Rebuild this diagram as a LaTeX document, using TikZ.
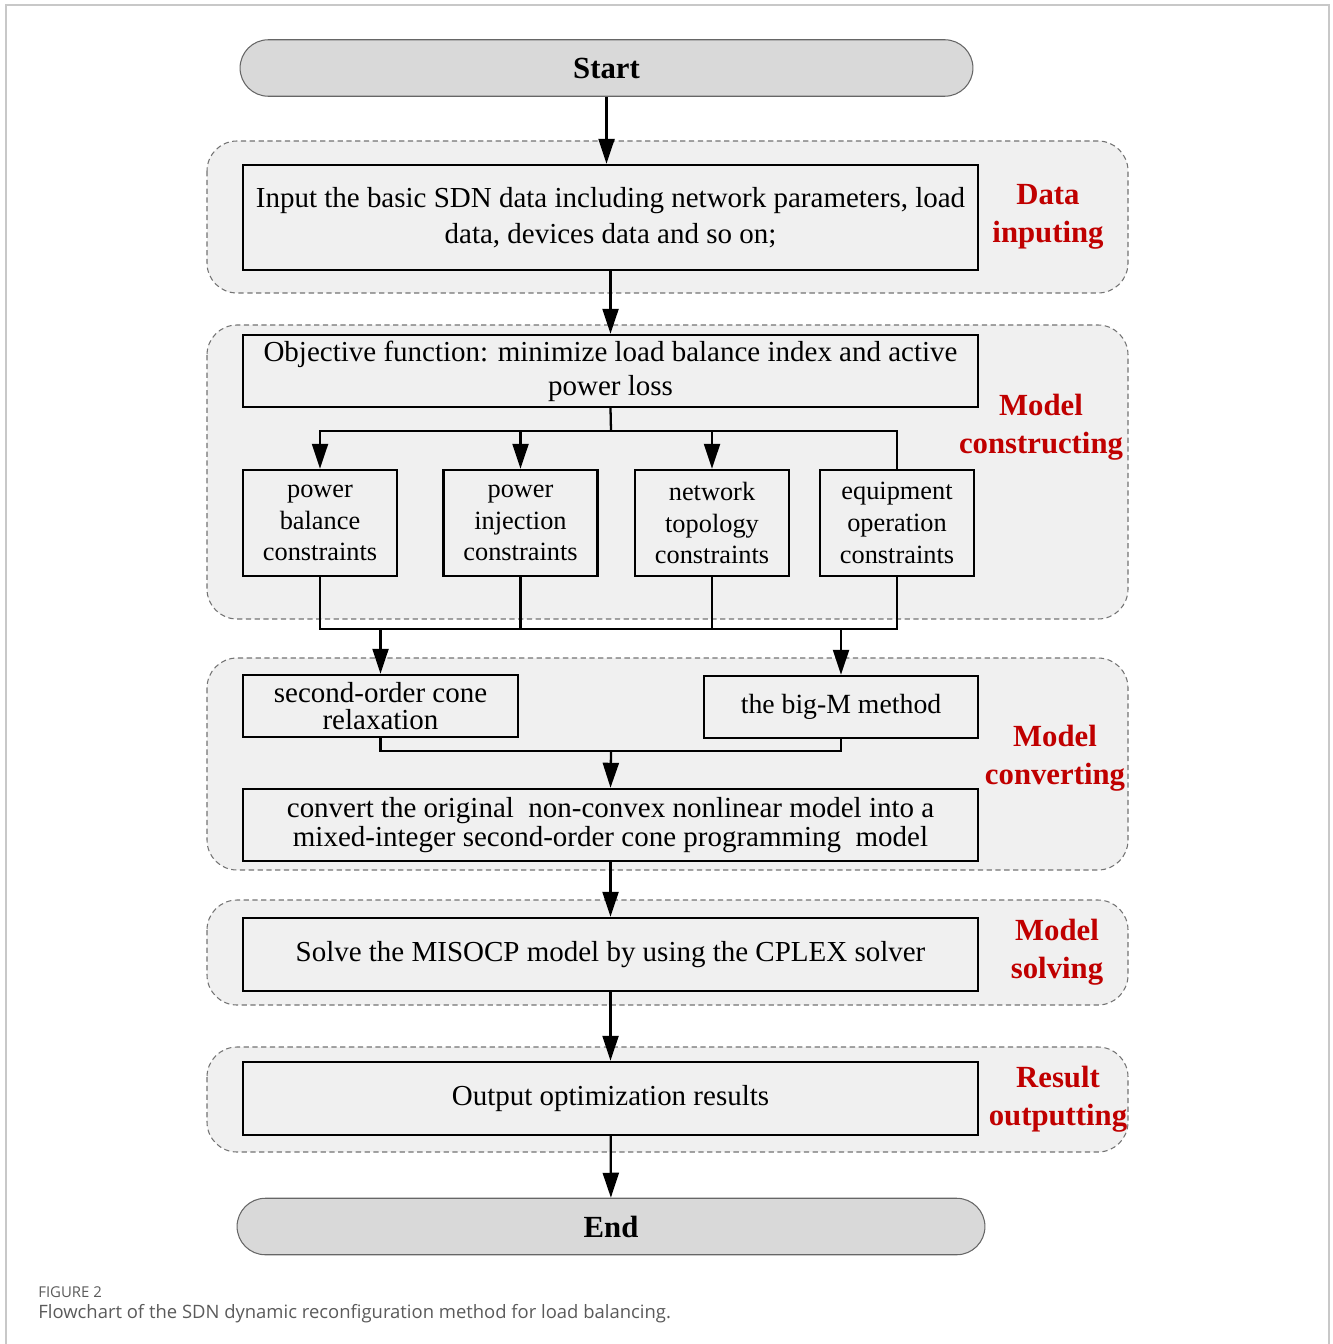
\documentclass[tikz,border=0pt]{standalone}
\usepackage{fontspec}
\setmainfont{Liberation Serif}
\newfontfamily\capfont{Open Sans}
\usetikzlibrary{arrows.meta,shapes.misc}
\definecolor{sdnred}{HTML}{C00000}
\definecolor{sdnpale}{HTML}{F0F0F0}
\definecolor{sdnterm}{HTML}{D9D9D9}
\definecolor{sdnframe}{HTML}{C8C8C8}
\definecolor{sdncap}{HTML}{5A5A5A}
\tikzset{
  sdn term/.style={rounded rectangle, draw=black!60, line width=0.6pt, fill=sdnterm,
    minimum height=1.13cm, inner sep=0pt, font=\fontsize{17.5}{20}\selectfont\bfseries},
  sdn region/.style={draw=black!55, line width=0.6pt, dash pattern=on 3pt off 2pt,
    rounded corners=0.6cm, fill=sdnpale},
  sdn box/.style={draw=black, line width=1.4pt, fill=sdnpale, align=center,
    inner sep=0pt, font=\fontsize{16.5}{20.4}\selectfont},
  sdn small/.style={sdn box, minimum width=3.08cm, minimum height=2.12cm,
    font=\fontsize{15}{18}\selectfont},
  sdn label/.style={text=sdnred, align=center, font=\fontsize{17.5}{21.5}\selectfont\bfseries},
  sdn arrow/.style={-{Triangle[length=0.5cm,width=0.32cm]}, line width=1.3pt},
  sdn line/.style={line width=1.3pt}
}
\begin{document}
\begin{tikzpicture}[x=0.02cm, y=-0.02cm]
  \useasboundingbox (0,0) rectangle (1332,1344);
  \draw[sdnframe, line width=0.6pt] (6,1344) -- (6,5) -- (1329,5) -- (1329,1344);
  % stage panels
  \draw[sdn region] (207,141) rectangle (1128,293);
  \draw[sdn region] (207,325) rectangle (1128,619);
  \draw[sdn region] (207,658) rectangle (1128,870);
  \draw[sdn region] (207,900) rectangle (1128,1005);
  \draw[sdn region] (207,1047) rectangle (1128,1152);
  % steps
  \node[sdn term, minimum width=14.66cm] (start) at (606.5,68) {Start};
  \node[sdn box, minimum width=14.7cm, minimum height=2.1cm] (input) at (610.5,217.5)
    {Input the basic SDN data including network parameters, load\\data, devices data and so on;};
  \node[sdn box, minimum width=14.7cm, minimum height=1.44cm,
    font=\fontsize{16.5}{19.3}\selectfont] (obj) at (610.5,371)
    {Objective function: minimize load balance index and active\\power loss};
  \node[sdn small] (pbal) at (320,523) {power\\balance\\constraints};
  \node[sdn small] (pinj) at (520.5,523) {power\\injection\\constraints};
  \node[sdn small] (topo) at (712,523) {network\\topology\\constraints};
  \node[sdn small] (equip) at (897,523) {equipment\\operation\\constraints};
  \node[sdn box, minimum width=5.5cm, minimum height=1.24cm,
    font=\fontsize{16.5}{15.5}\selectfont] (soc) at (380.5,706) {second-order cone\\relaxation};
  \node[sdn box, minimum width=5.48cm, minimum height=1.24cm,
    font=\fontsize{15.8}{18}\selectfont] (bigm) at (841,707) {the big-M method};
  \node[sdn box, minimum width=14.7cm, minimum height=1.44cm,
    font=\fontsize{16.5}{16.4}\selectfont] (conv) at (610.5,825)
    {convert the original\ \ non-convex nonlinear model into a\\mixed-integer second-order cone programming\ \ model};
  \node[sdn box, minimum width=14.7cm, minimum height=1.46cm] (solve) at (610.5,954.5)
    {Solve the MISOCP model by using the CPLEX solver};
  \node[sdn box, minimum width=14.7cm, minimum height=1.46cm] (out) at (610.5,1098.5)
    {Output optimization results};
  \node[sdn term, minimum width=14.96cm] (end) at (611,1226.5) {End};
  % stage names
  \node[sdn label] (lbdata) at (1048,217) {Data\\inputing};
  \node[sdn label] (lbcons) at (1041,427) {Model\\constructing};
  \node[sdn label] (lbconv) at (1055,758) {Model\\converting};
  \node[sdn label] (lbsolve) at (1057,952) {Model\\solving};
  \node[sdn label] (lbout) at (1058,1099) {Result\\outputting};
  % connectors
  \coordinate (fork) at (611,431);
  \coordinate (join) at (611,629);
  \coordinate (merge) at (611,751);
  \draw[sdn arrow] (start.south) -- (start.south |- input.north);
  \draw[sdn arrow] (input) -- (obj);
  \draw[sdn line] (obj.south) -- (fork);
  \draw[sdn arrow] (fork) -| (pbal.north);
  \draw[sdn arrow] (fork) -| (pinj.north);
  \draw[sdn arrow] (fork) -| (topo.north);
  \draw[sdn line] (fork) -| (equip.north);
  \draw[sdn line] (pbal.south) |- (join) -| (equip.south);
  \draw[sdn line] (pinj.south) -- (pinj.south |- join);
  \draw[sdn line] (topo.south) -- (topo.south |- join);
  \draw[sdn arrow] (soc.north |- join) -- (soc.north);
  \draw[sdn arrow] (bigm.north |- join) -- (bigm.north);
  \draw[sdn line] (soc.south) |- (merge) -| (bigm.south);
  \draw[sdn arrow] (merge) -- (conv.north);
  \draw[sdn arrow] (conv) -- (solve);
  \draw[sdn arrow] (solve) -- (out);
  \draw[sdn arrow] (out) -- (end);
  % caption
  \node[anchor=base west, text=sdncap, inner sep=0pt, font=\capfont\fontsize{8.5}{10}\selectfont]
    (figno) at (38,1297) {FIGURE 2};
  \node[anchor=base west, text=sdncap, inner sep=0pt, font=\capfont\fontsize{10.5}{13}\selectfont]
    (caption) at (38,1318) {Flowchart of the SDN dynamic reconfiguration method for load balancing.};
\end{tikzpicture}
\end{document}
